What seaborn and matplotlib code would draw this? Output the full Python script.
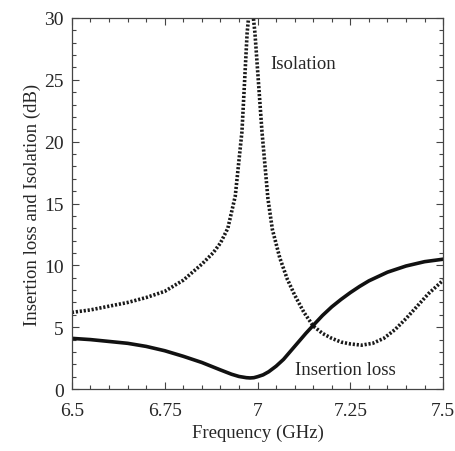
import matplotlib
matplotlib.use("Agg")
import matplotlib.pyplot as plt
import pandas as pd
import seaborn as sns
from matplotlib.ticker import MultipleLocator

# values
freq_iso = [6.5, 6.55, 6.6, 6.65, 6.7, 6.75, 6.8, 6.85, 6.88, 6.9, 6.92, 6.94,
            6.958, 6.972, 6.982, 6.993, 7.012, 7.028, 7.04, 7.06, 7.08, 7.1,
            7.125, 7.15, 7.175, 7.2, 7.225, 7.25, 7.28, 7.31, 7.34, 7.37, 7.4,
            7.43, 7.46, 7.5]
isolation = [6.2, 6.4, 6.7, 7.0, 7.4, 7.9, 8.8, 10.1, 11.0, 11.8, 13.0, 15.6,
             20.8, 28.8, 32.0, 28.8, 20.8, 15.4, 12.9, 10.6, 8.9, 7.6,
             6.2, 5.1, 4.5, 4.1, 3.8, 3.65, 3.55, 3.7, 4.1, 4.8, 5.7,
             6.7, 7.7, 8.8]

freq_il = [6.5, 6.55, 6.6, 6.65, 6.7, 6.75, 6.8, 6.85, 6.9, 6.93, 6.95, 6.97,
           6.98, 6.99, 7.0, 7.015, 7.03, 7.05, 7.07, 7.09, 7.11, 7.13, 7.15,
           7.175, 7.2, 7.225, 7.25, 7.275, 7.3, 7.35, 7.4, 7.45, 7.5]
insertion_loss = [4.1, 4.0, 3.85, 3.7, 3.45, 3.1, 2.65, 2.15, 1.55, 1.2, 1.02, 0.92,
                  0.9, 0.92, 1.0, 1.15, 1.4, 1.85, 2.4, 3.1, 3.8, 4.5, 5.15,
                  5.95, 6.65, 7.25, 7.8, 8.3, 8.75, 9.45, 9.95, 10.3, 10.5]

x_ticks = [6.5, 6.75, 7, 7.25, 7.5]
x_tick_labels = ["6.5", "6.75", "7", "7.25", "7.5"]
y_ticks = [0, 5, 10, 15, 20, 25, 30]

sns.set_style("ticks")
plt.rcParams["font.family"] = ["Liberation Serif", "DejaVu Serif"]

iso_df = pd.DataFrame({"freq": freq_iso, "val": isolation})
il_df = pd.DataFrame({"freq": freq_il, "val": insertion_loss})

fig = plt.figure(figsize=(4.55, 4.52), dpi=100)
ax = fig.add_axes([0.158, 0.137, 0.816, 0.821])

sns.lineplot(data=iso_df, x="freq", y="val", ax=ax, color="#1a1a1a",
             lw=2.6, linestyle=(0, (0.6, 0.5)), sort=False)
sns.lineplot(data=il_df, x="freq", y="val", ax=ax, color="#111111",
             lw=2.6, sort=False)

ax.set_xlim(6.5, 7.5)
ax.set_ylim(0, 30)
ax.set_xticks(x_ticks)
ax.set_xticklabels(x_tick_labels)
ax.set_yticks(y_ticks)
ax.xaxis.set_minor_locator(MultipleLocator(0.05))
ax.yaxis.set_minor_locator(MultipleLocator(1))
ax.tick_params(which="both", direction="in", top=True, right=True,
               labelsize=14, width=0.8, color="#444444")
ax.tick_params(which="major", length=5)
ax.tick_params(which="minor", length=3)
ax.tick_params(axis="x", pad=9)
ax.tick_params(axis="y", pad=6)
for s in ax.spines.values():
    s.set_linewidth(0.9)
    s.set_color("#444444")

ax.set_xlabel("Frequency (GHz)", fontsize=13.5, labelpad=4)
ax.set_ylabel("Insertion loss and Isolation (dB)", fontsize=13.5, labelpad=2)

ax.text(7.034, 26.3, "Isolation", fontsize=13.5, va="center", ha="left")
ax.text(7.10, 1.6, "Insertion loss", fontsize=13.5, va="center", ha="left")

fig.savefig("out.png", dpi=100)
